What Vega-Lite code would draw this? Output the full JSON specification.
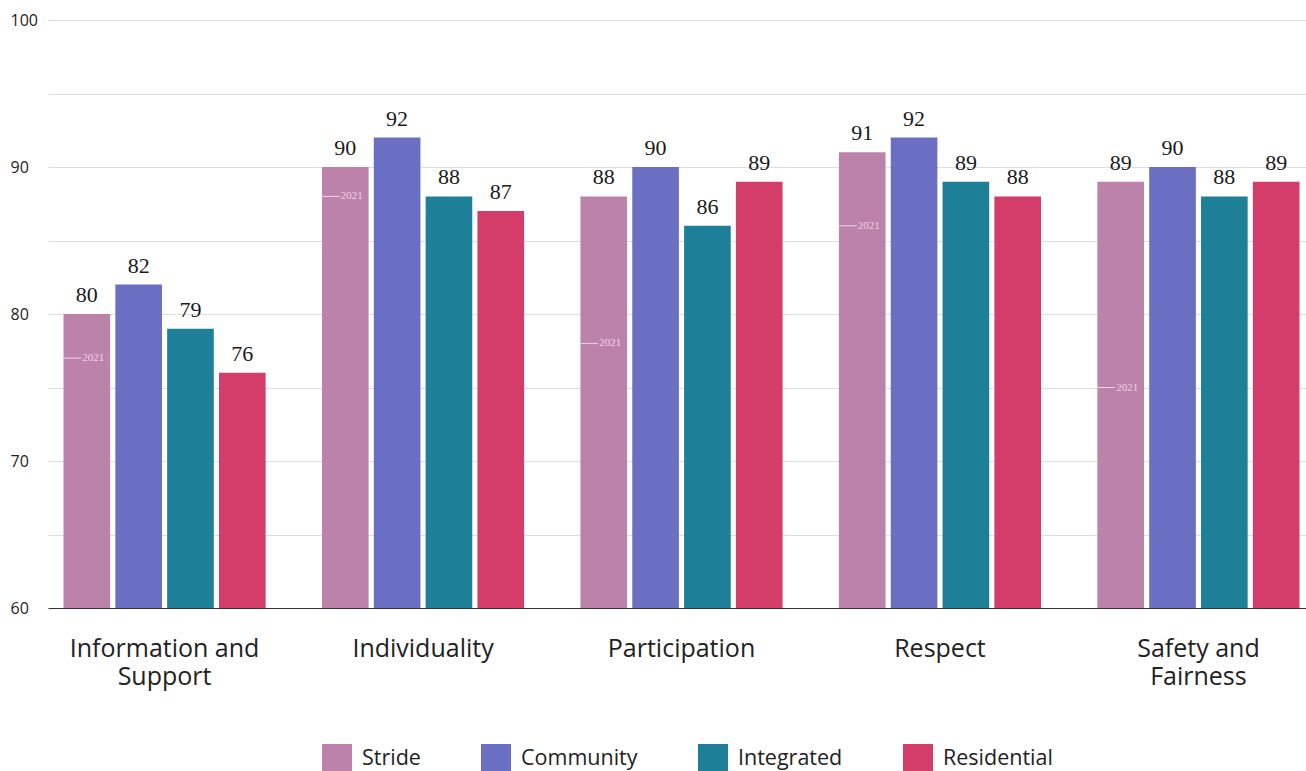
{
  "$schema": "https://vega.github.io/schema/vega-lite/v6.json",
  "width": 1267,
  "height": 588,
  "autosize": {"type": "none"},
  "padding": {"left": 48, "top": 20, "right": 0, "bottom": 163},
  "background": "white",
  "config": {
    "view": {"stroke": null},
    "font": "Open Sans"
  },
  "data": {
    "values": [
      {"category": "Information and Support", "group": "Stride", "score": 80, "prev": 77},
      {"category": "Information and Support", "group": "Community", "score": 82},
      {"category": "Information and Support", "group": "Integrated", "score": 79},
      {"category": "Information and Support", "group": "Residential", "score": 76},
      {"category": "Individuality", "group": "Stride", "score": 90, "prev": 88},
      {"category": "Individuality", "group": "Community", "score": 92},
      {"category": "Individuality", "group": "Integrated", "score": 88},
      {"category": "Individuality", "group": "Residential", "score": 87},
      {"category": "Participation", "group": "Stride", "score": 88, "prev": 78},
      {"category": "Participation", "group": "Community", "score": 90},
      {"category": "Participation", "group": "Integrated", "score": 86},
      {"category": "Participation", "group": "Residential", "score": 89},
      {"category": "Respect", "group": "Stride", "score": 91, "prev": 86},
      {"category": "Respect", "group": "Community", "score": 92},
      {"category": "Respect", "group": "Integrated", "score": 89},
      {"category": "Respect", "group": "Residential", "score": 88},
      {"category": "Safety and Fairness", "group": "Stride", "score": 89, "prev": 75},
      {"category": "Safety and Fairness", "group": "Community", "score": 90},
      {"category": "Safety and Fairness", "group": "Integrated", "score": 88},
      {"category": "Safety and Fairness", "group": "Residential", "score": 89}
    ]
  },
  "encoding": {
    "x": {
      "field": "category",
      "type": "nominal",
      "sort": ["Information and Support", "Individuality", "Participation", "Respect", "Safety and Fairness"],
      "scale": {"paddingInner": 0.218, "paddingOuter": 0.06},
      "axis": {
        "title": null,
        "labelAngle": 0,
        "labelFontSize": 25,
        "labelColor": "#222222",
        "labelFont": "Open Sans",
        "labelPadding": 28,
        "labelLimit": 400,
        "labelLineHeight": 28,
        "labelBaseline": "top",
        "ticks": false,
        "domainColor": "#333333",
        "domainWidth": 1.2,
        "labelExpr": "datum.label == 'Information and Support' ? ['Information and', 'Support'] : datum.label == 'Safety and Fairness' ? ['Safety and', 'Fairness'] : datum.label"
      }
    },
    "xOffset": {
      "field": "group",
      "type": "nominal",
      "sort": ["Stride", "Community", "Integrated", "Residential"],
      "scale": {"paddingInner": 0.1, "paddingOuter": 0}
    }
  },
  "layer": [
    {
      "mark": {"type": "bar", "clip": true},
      "encoding": {
        "y": {
          "field": "score",
          "type": "quantitative",
          "scale": {"domain": [60, 100], "zero": false, "nice": false},
          "axis": {
            "title": null,
            "values": [60, 65, 70, 75, 80, 85, 90, 95, 100],
            "labelExpr": "datum.value % 10 == 0 ? datum.label : ''",
            "labelAlign": "left",
            "labelPadding": 38,
            "labelFontSize": 16,
            "labelColor": "#222222",
            "ticks": false,
            "domain": false,
            "gridColor": "#dddddd",
            "gridWidth": 1
          }
        },
        "color": {
          "field": "group",
          "type": "nominal",
          "sort": ["Stride", "Community", "Integrated", "Residential"],
          "scale": {
            "domain": ["Stride", "Community", "Integrated", "Residential"],
            "range": ["#bc82aa", "#6b6fc4", "#1e8098", "#d43c6a"]
          },
          "legend": {
            "title": null,
            "orient": "none",
            "direction": "horizontal",
            "legendX": 274,
            "legendY": 724,
            "symbolType": "square",
            "symbolSize": 900,
            "symbolStrokeWidth": 0,
            "symbolOpacity": 1,
            "labelFontSize": 21.5,
            "labelColor": "#222222",
            "labelOffset": 10,
            "columnPadding": 60,
            "labelLimit": 300
          }
        }
      }
    },
    {
      "mark": {"type": "text", "font": "Liberation Serif", "fontSize": 22, "color": "#1a1a1a", "baseline": "alphabetic", "dy": -12},
      "encoding": {
        "y": {"field": "score", "type": "quantitative"},
        "text": {"field": "score", "type": "quantitative"}
      }
    },
    {
      "transform": [{"filter": "datum.group == 'Stride'"}],
      "mark": {"type": "point", "shape": "M-2.35,0L-0.55,0", "size": 400, "filled": false, "stroke": "#ecd2e2", "strokeWidth": 1, "opacity": 1},
      "encoding": {
        "y": {"field": "prev", "type": "quantitative"}
      }
    },
    {
      "transform": [{"filter": "datum.group == 'Stride'"}],
      "mark": {"type": "text", "font": "Liberation Serif", "fontSize": 11, "color": "#ecd2e2", "align": "left", "baseline": "middle", "dx": -4.5},
      "encoding": {
        "y": {"field": "prev", "type": "quantitative"},
        "text": {"value": "2021"}
      }
    }
  ]
}
